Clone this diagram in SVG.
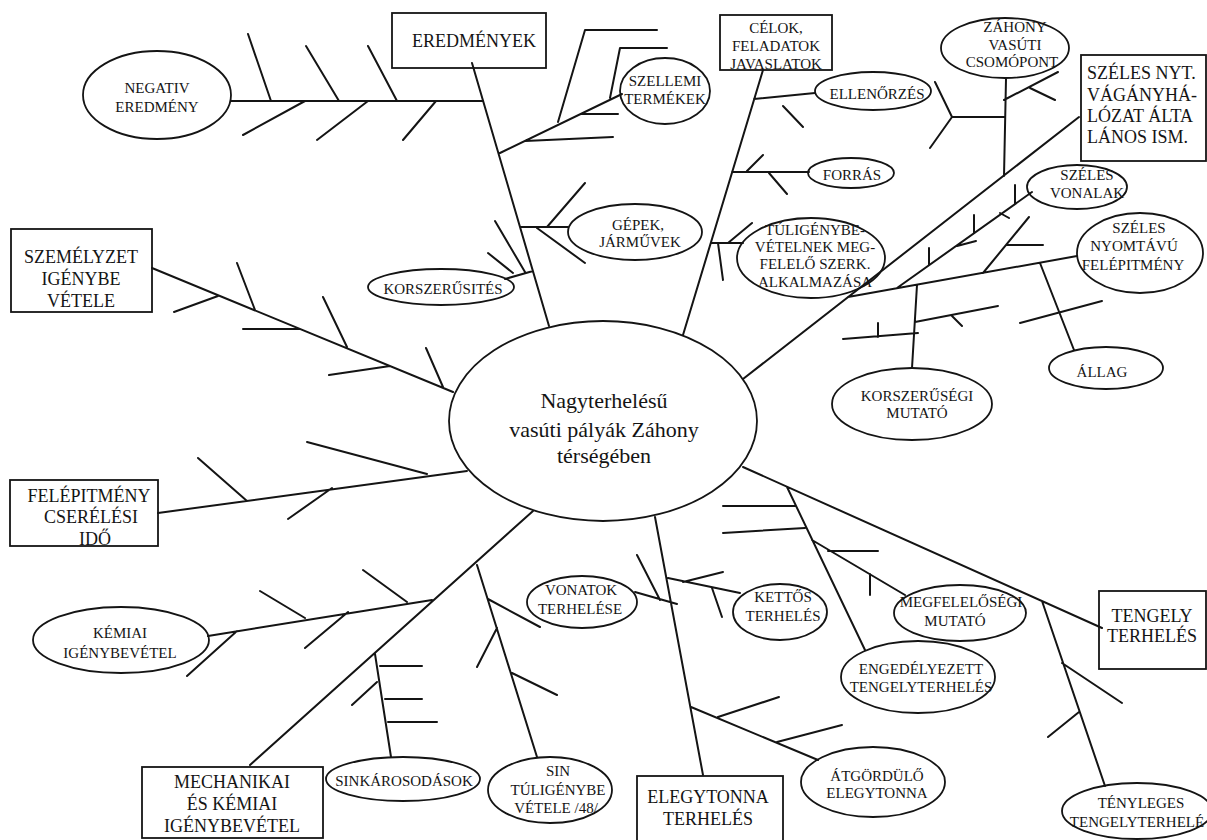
<svg xmlns="http://www.w3.org/2000/svg" width="1207" height="840" viewBox="0 0 1207 840">
<style>
.l{stroke:#141414;stroke-width:2;fill:none;stroke-linecap:round;stroke-linejoin:round}
.n{fill:#fff;stroke:#141414;stroke-width:1.8}
.t{font-family:"Liberation Serif","Times New Roman",serif;fill:#141414;text-anchor:middle}
.s{font-size:15px}
.b{font-size:18px}
.c{font-size:22px}
.lt{text-anchor:start}
</style>
<rect width="1207" height="840" fill="#fff"/>

<g id="main">
<ellipse class="n" cx="603" cy="421" rx="154" ry="100"/>
<text class="t c" x="604" y="408">Nagyterhelésű</text>
<text class="t c" x="604" y="437">vasúti pályák Záhony</text>
<text class="t c" x="604" y="463">térségében</text>
</g>

<g id="eredmenyek">
<rect class="n" x="392" y="13" width="154" height="55"/>
<text class="t b" x="474" y="47">EREDMÉNYEK</text>
</g>
<g id="celok">
<rect class="n" x="720" y="15" width="112" height="55"/>
<text class="t s" x="776" y="33">CÉLOK,</text>
<text class="t s" x="776" y="51">FELADATOK</text>
<text class="t s" x="776" y="69">JAVASLATOK</text>
</g>
<g id="szeles-nyt">
<rect class="n" x="1081" y="55" width="125" height="106"/>
<text class="t b lt" x="1087" y="79">SZÉLES NYT.</text>
<text class="t b lt" x="1087" y="101">VÁGÁNYHÁ-</text>
<text class="t b lt" x="1087" y="122">LÓZAT ÁLTA</text>
<text class="t b lt" x="1087" y="143">LÁNOS ISM.</text>
</g>
<g id="szemelyzet">
<rect class="n" x="11" y="229" width="141" height="83"/>
<text class="t b" x="81" y="263">SZEMÉLYZET</text>
<text class="t b" x="81" y="285">IGÉNYBE</text>
<text class="t b" x="81" y="307">VÉTELE</text>
</g>
<g id="felepitmeny">
<rect class="n" x="10" y="480" width="148" height="66"/>
<text class="t b" x="89" y="502">FELÉPITMÉNY</text>
<text class="t b" x="91" y="523">CSERÉLÉSI</text>
<text class="t b" x="95" y="545">IDŐ</text>
</g>
<g id="mechanikai">
<rect class="n" x="142" y="767" width="181" height="71"/>
<text class="t b" x="232" y="788">MECHANIKAI</text>
<text class="t b" x="232" y="810">ÉS KÉMIAI</text>
<text class="t b" x="232" y="832">IGÉNYBEVÉTEL</text>
</g>
<g id="elegytonna">
<rect class="n" x="637" y="776" width="146" height="70"/>
<text class="t b" x="708" y="803">ELEGYTONNA</text>
<text class="t b" x="708" y="825">TERHELÉS</text>
</g>
<g id="tengely">
<rect class="n" x="1099" y="591" width="107" height="78"/>
<text class="t b" x="1152" y="622">TENGELY</text>
<text class="t b" x="1152" y="642">TERHELÉS</text>
</g>

<g id="negativ">
<ellipse class="n" cx="157" cy="95" rx="74" ry="44"/>
<text class="t s" x="157" y="93">NEGATIV</text>
<text class="t s" x="157" y="112">EREDMÉNY</text>
</g>
<g id="szellemi">
<ellipse class="n" cx="665" cy="91" rx="45" ry="33"/>
<text class="t s" x="665" y="86">SZELLEMI</text>
<text class="t s" x="665" y="104">TERMÉKEK</text>
</g>
<g id="gepek">
<ellipse class="n" cx="635" cy="232" rx="67" ry="28"/>
<text class="t s" x="638" y="230">GÉPEK,</text>
<text class="t s" x="640" y="247">JÁRMŰVEK</text>
</g>
<g id="korszerusites">
<ellipse class="n" cx="441" cy="287" rx="73" ry="18"/>
<text class="t s" x="443" y="294">KORSZERŰSITÉS</text>
</g>
<g id="ellenorzes">
<ellipse class="n" cx="873" cy="91" rx="58" ry="19"/>
<text class="t s" x="877" y="99">ELLENŐRZÉS</text>
</g>
<g id="forras">
<ellipse class="n" cx="851" cy="173" rx="43" ry="15"/>
<text class="t s" x="852" y="180">FORRÁS</text>
</g>
<g id="tuligenybe">
<ellipse class="n" cx="811" cy="258" rx="74" ry="40"/>
<text class="t s" x="815" y="235">TÚLIGÉNYBE-</text>
<text class="t s" x="815" y="252">VÉTELNEK MEG-</text>
<text class="t s" x="815" y="269">FELELŐ SZERK.</text>
<text class="t s" x="815" y="287">ALKALMAZÁSA</text>
</g>
<g id="zahony">
<ellipse class="n" cx="1005" cy="48" rx="64" ry="30"/>
<text class="t s" x="1015" y="32">ZÁHONY</text>
<text class="t s" x="1015" y="50">VASÚTI</text>
<text class="t s" x="1012" y="67">CSOMÓPONT</text>
</g>
<g id="szeles-vonalak">
<ellipse class="n" cx="1077" cy="187" rx="50" ry="22"/>
<text class="t s" x="1087" y="180">SZÉLES</text>
<text class="t s" x="1087" y="198">VONALAK</text>
</g>
<g id="szeles-nyomtavu">
<ellipse class="n" cx="1140" cy="253" rx="63" ry="40"/>
<text class="t s" x="1139" y="233">SZÉLES</text>
<text class="t s" x="1134" y="251">NYOMTÁVÚ</text>
<text class="t s" x="1133" y="270">FELÉPITMÉNY</text>
</g>
<g id="korszerusegi">
<ellipse class="n" cx="912" cy="404" rx="80" ry="36"/>
<text class="t s" x="917" y="401">KORSZERŰSÉGI</text>
<text class="t s" x="917" y="418">MUTATÓ</text>
</g>
<g id="allag">
<ellipse class="n" cx="1106" cy="368" rx="57" ry="21"/>
<text class="t s" x="1102" y="377">ÁLLAG</text>
</g>
<g id="kemiai">
<ellipse class="n" cx="121" cy="640" rx="88" ry="33"/>
<text class="t s" x="120" y="638">KÉMIAI</text>
<text class="t s" x="120" y="658">IGÉNYBEVÉTEL</text>
</g>
<g id="sinkarosodasok">
<ellipse class="n" cx="403" cy="779" rx="77" ry="22"/>
<text class="t s" x="404" y="786">SINKÁROSODÁSOK</text>
</g>
<g id="sin">
<ellipse class="n" cx="550" cy="790" rx="62" ry="33"/>
<text class="t s" x="558" y="776">SIN</text>
<text class="t s" x="558" y="795">TÚLIGÉNYBE</text>
<text class="t s" x="556" y="813">VÉTELE /48/</text>
</g>
<g id="vonatok">
<ellipse class="n" cx="582" cy="602" rx="55" ry="26"/>
<text class="t s" x="581" y="595">VONATOK</text>
<text class="t s" x="580" y="614">TERHELÉSE</text>
</g>
<g id="kettos">
<ellipse class="n" cx="780" cy="612" rx="47" ry="28"/>
<text class="t s" x="783" y="602">KETTŐS</text>
<text class="t s" x="783" y="621">TERHELÉS</text>
</g>
<g id="megfeleloseg">
<ellipse class="n" cx="960" cy="613" rx="66" ry="28"/>
<text class="t s" x="961" y="607">MEGFELELŐSÉGI</text>
<text class="t s" x="955" y="626">MUTATÓ</text>
</g>
<g id="engedelyezett">
<ellipse class="n" cx="918" cy="677" rx="77" ry="36"/>
<text class="t s" x="921" y="674">ENGEDÉLYEZETT</text>
<text class="t s" x="921" y="692">TENGELYTERHELÉS</text>
</g>
<g id="atgordulo">
<ellipse class="n" cx="873" cy="782" rx="72" ry="35"/>
<text class="t s" x="877" y="781">ÁTGÖRDÜLŐ</text>
<text class="t s" x="877" y="798">ELEGYTONNA</text>
</g>
<g id="tenyleges">
<ellipse class="n" cx="1137" cy="811" rx="75" ry="28"/>
<text class="t s" x="1141" y="808">TÉNYLEGES</text>
<text class="t s" x="1137" y="827">TENGELYTERHELÉ</text>
</g>

<g id="connectors" class="l">
<path d="M472,63 L549,326 M231,101 L483,101 M248,34 L271,101 M306,46 L339,101 M368,46 L397,101 M243,135 L305,101 M317,140 L368,101 M403,140 L436,101 M500,153 L622,94 M558,122 L585,30 L657,30 M610,98 L620,48 L667,48 M582,114 L618,114 M525,141 L613,137 M520,227 L568,227 M547,227 L585,183 M537,228 L585,263 M505,279 L533,271 M495,221 L525,272 M488,253 L513,273"/>
<path d="M763,70 L683,335 M754,99 L815,93 M783,106 L803,127 M732,172 L809,172 M747,171 L763,155 M769,173 L787,194 M711,243 L743,243 M728,243 L752,223 M718,243 L723,280"/>
<path d="M1079,117 L743,379 M1006,79 L1004,176 M1004,117 L952,117 M952,117 L935,82 M952,117 L930,148 M1004,100 L1058,72 M1030,88 L1055,100 M1032,192 L897,288 M1015,185 L1015,204 M1000,213 L1009,218 M974,215 L974,233 M957,246 L976,241 M929,248 L929,265 M1077,256 L848,297 M983,273 L1029,217 M1007,245 L1043,245 M1040,263 L1074,350 M1020,323 L1102,301 M917,285 L912,368 M915,322 L998,306 M952,316 L962,326 M843,339 L918,333 M878,323 L878,337"/>
<path d="M152,268 L453,392 M174,312 L218,296 M237,263 L255,310 M243,329 L300,329 M323,297 L347,347 M329,375 L390,366 M426,348 L443,387"/>
<path d="M158,513 L467,471 M198,458 L247,501 M288,519 L332,488 M307,442 L427,474"/>
<path d="M250,765 L533,511 M208,636 L432,600 M187,676 L237,631 M260,591 L305,618 M305,648 L348,612 M363,570 L407,602 M375,654 L391,757 M380,666 L422,666 M385,699 L422,699 M388,722 L437,722 M352,705 L377,682 M477,565 L537,757 M488,599 L540,627 M497,628 L477,667 M512,673 L557,695"/>
<path d="M655,517 L703,775 M635,592 L677,604 M637,555 L660,600 M668,578 L740,593 M683,582 L723,572 M712,588 L722,617 M691,707 L818,760 M718,717 L779,697 M777,742 L842,725"/>
<path d="M743,467 L1102,628 M787,487 L865,650 M723,506 L796,506 M723,533 L805,528 M812,540 L905,595 M828,551 L878,551 M870,574 L870,595 M1042,601 L1105,786 M1062,663 L1122,703 M1048,737 L1079,712"/>
</g>
</svg>
